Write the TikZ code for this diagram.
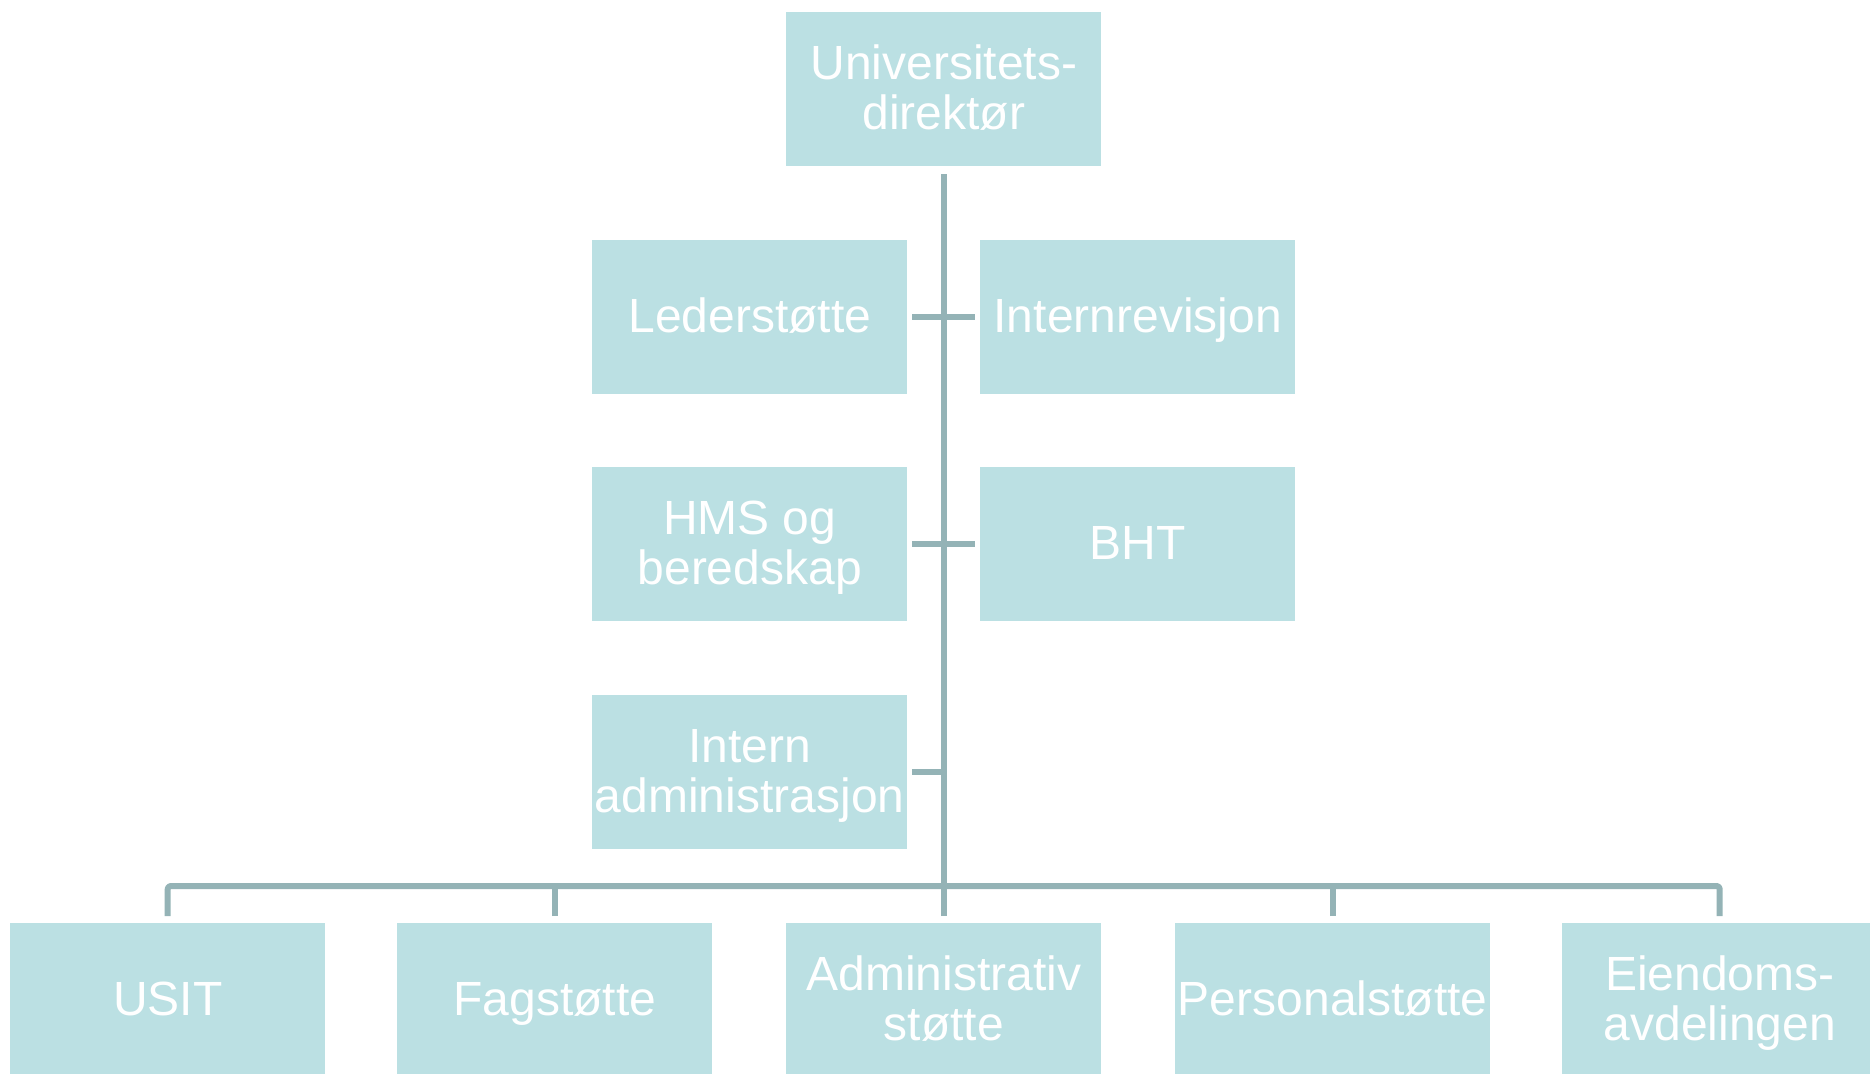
\documentclass[tikz,border=0pt]{standalone}
\usepackage{fontspec}
\setmainfont{Liberation Sans}
\definecolor{boxfill}{HTML}{BBE0E3}
\definecolor{linecol}{HTML}{94B3B6}
\begin{document}
\begin{tikzpicture}[x=1pt,y=-1pt,
  unit/.style={anchor=north west, fill=boxfill, draw=none, minimum width=315pt, minimum height=154pt,
    inner sep=0pt, align=center, text=white, font=\fontsize{48}{50}\selectfont},
  oneline/.style={unit, text height=34pt, text depth=4pt},
  twoline/.style={unit, text height=84pt, text depth=4pt},
  conn/.style={draw=linecol, line width=6pt, line join=round}]
\useasboundingbox (0,0) rectangle (1870,1073);
\clip (0,0) rectangle (1870,1073);
\node[twoline] (top) at (786,12) {Universitets-\\direktør};
\node[oneline] (led) at (592,240) {Lederstøtte};
\node[oneline] (int) at (980,240) {Internrevisjon};
\node[twoline] (hms) at (592,467) {HMS og\\beredskap};
\node[oneline] (bht) at (980,467) {BHT};
\node[twoline] (iad) at (592,695) {Intern\\administrasjon};
\node[oneline] (usit) at (10,923) {USIT};
\node[oneline] (fag) at (397,923) {Fagstøtte};
\node[twoline] (adm) at (786,923) {Administrativ\\støtte};
\node[oneline] (pers) at (1175,923) {Personalstøtte};
\node[twoline] (eien) at (1562,923) {Eiendoms-\\avdelingen};
% trunk
\draw[conn] ([yshift=-8pt]top.south) -- ([yshift=37pt]adm.north);
% side ticks
\draw[conn] ([xshift=5pt]led.east) -- ([xshift=-5pt]int.west);
\draw[conn] ([xshift=5pt]hms.east) -- ([xshift=-5pt]bht.west);
\draw[conn] ([xshift=5pt]iad.east) -- (iad.east -| top.south);
% bus
\draw[conn, rounded corners=3pt] ([yshift=7pt]usit.north) |- ([yshift=37pt]adm.north) -| ([yshift=7pt]eien.north);
\draw[conn] ([yshift=7pt]fag.north) -- ([yshift=37pt]fag.north);
\draw[conn] ([yshift=7pt]adm.north) -- ([yshift=37pt]adm.north);
\draw[conn] ([yshift=7pt]pers.north) -- ([yshift=37pt]pers.north);
\end{tikzpicture}
\end{document}
